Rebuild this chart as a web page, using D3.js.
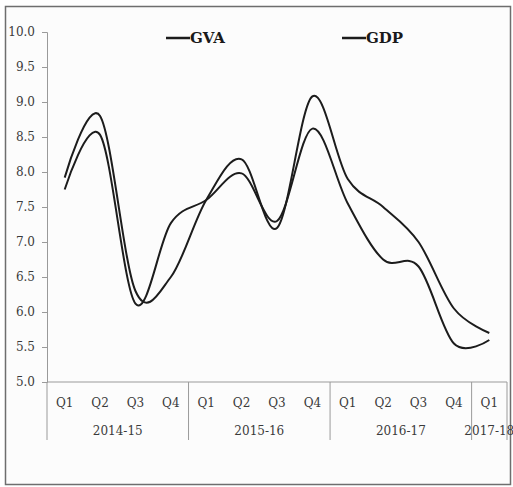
<!DOCTYPE html>
<html>
<head>
<meta charset="utf-8">
<script src="https://cdn.jsdelivr.net/npm/d3@7"></script>
<style>
  html, body { margin: 0; padding: 0; background: #ffffff; }
  svg { display: block; }
  text { font-family: "DejaVu Serif", "Liberation Serif", serif; }
</style>
</head>
<body>
<svg id="chart" width="513" height="487"></svg>
<script>
// ---- data ----
const quarters = ["Q1","Q2","Q3","Q4","Q1","Q2","Q3","Q4","Q1","Q2","Q3","Q4","Q1"];
const yearLabels = ["2014-15","2015-16","2016-17","2017-18"];
const yearSpans = [4, 4, 4, 1];
const gva = [7.75, 8.53, 6.12, 7.27, 7.6, 7.98, 7.3, 8.62, 7.55, 6.75, 6.65, 5.55, 5.6];
const gdp = [7.92, 8.8, 6.3, 6.5, 7.6, 8.18, 7.2, 9.08, 7.9, 7.5, 7.0, 6.05, 5.7];
const yTicks = [5.0, 5.5, 6.0, 6.5, 7.0, 7.5, 8.0, 8.5, 9.0, 9.5, 10.0];
const seriesNames = ["GVA", "GDP"];

(function () {
  // ---- layout ----
  const svg = d3.select("#chart");
  const pLeft = 47, pRight = 507, pTop = 32, pBottom = 382;
  const ink = "#1c1c1c", axisCol = "#9a9a9a", textCol = "#3a3a3a";

  svg.append("rect")
    .attr("x", 5.5).attr("y", 6.5).attr("width", 505).attr("height", 478)
    .attr("fill", "#fcfcfc").attr("stroke", "#6e6e6e").attr("stroke-width", 1.5);

  const idx = d3.range(quarters.length);
  const x = d3.scaleBand().domain(idx).range([pLeft, pRight]).padding(0);
  const y = d3.scaleLinear().domain([5, 10]).range([pBottom, pTop]);
  const cx = i => x(i) + x.bandwidth() / 2;

  // y axis
  const yAxis = svg.append("g")
    .attr("transform", `translate(${pLeft},0)`)
    .call(d3.axisLeft(y).tickValues(yTicks).tickFormat(d3.format(".1f")).tickSize(5).tickPadding(7));
  yAxis.select(".domain").attr("stroke", axisCol);
  yAxis.selectAll(".tick line").attr("stroke", axisCol);
  yAxis.selectAll(".tick text")
    .attr("fill", textCol).style("font-size", "12px")
    .style("font-family", "'DejaVu Serif', serif");

  // x axis line
  svg.append("line")
    .attr("x1", pLeft).attr("x2", pRight).attr("y1", pBottom).attr("y2", pBottom)
    .attr("stroke", axisCol).attr("stroke-width", 1);

  // quarter labels
  svg.append("g").selectAll("text").data(idx).join("text")
    .attr("x", i => cx(i)).attr("y", 407)
    .attr("text-anchor", "middle")
    .attr("fill", textCol).style("font-size", "12px")
    .text(i => quarters[i]);

  // year groups
  let start = 0;
  const groups = yearLabels.map((lab, k) => {
    const g = { label: lab, s: start, e: start + yearSpans[k] };
    start += yearSpans[k];
    return g;
  });
  const edge = b => b < quarters.length ? x(b) : x(quarters.length - 1) + x.bandwidth();
  const bounds = [0].concat(groups.map(g => g.e));
  svg.append("g").selectAll("line").data(bounds).join("line")
    .attr("x1", edge).attr("x2", edge)
    .attr("y1", pBottom).attr("y2", 440)
    .attr("stroke", axisCol).attr("stroke-width", 1);
  svg.append("g").selectAll("text").data(groups).join("text")
    .attr("x", g => (edge(g.s) + edge(g.e)) / 2)
    .attr("y", 435)
    .attr("text-anchor", "middle")
    .attr("fill", textCol).style("font-size", "12px")
    .text(g => g.label);

  // lines
  const line = d3.line()
    .x((d, i) => cx(i))
    .y(d => y(d))
    .curve(d3.curveCatmullRom.alpha(0));
  [gva, gdp].forEach(s => {
    svg.append("path").datum(s)
      .attr("d", line)
      .attr("fill", "none").attr("stroke", ink).attr("stroke-width", 2);
  });

  // legend
  const legendX = [166, 342];
  seriesNames.forEach((name, k) => {
    svg.append("line")
      .attr("x1", legendX[k]).attr("x2", legendX[k] + 24)
      .attr("y1", 38).attr("y2", 38)
      .attr("stroke", ink).attr("stroke-width", 2.5);
    svg.append("text")
      .attr("x", legendX[k] + 24).attr("y", 43)
      .attr("fill", "#1a1a1a")
      .style("font-size", "15px").style("font-weight", "bold")
      .text(name);
  });
})();
</script>
</body>
</html>
